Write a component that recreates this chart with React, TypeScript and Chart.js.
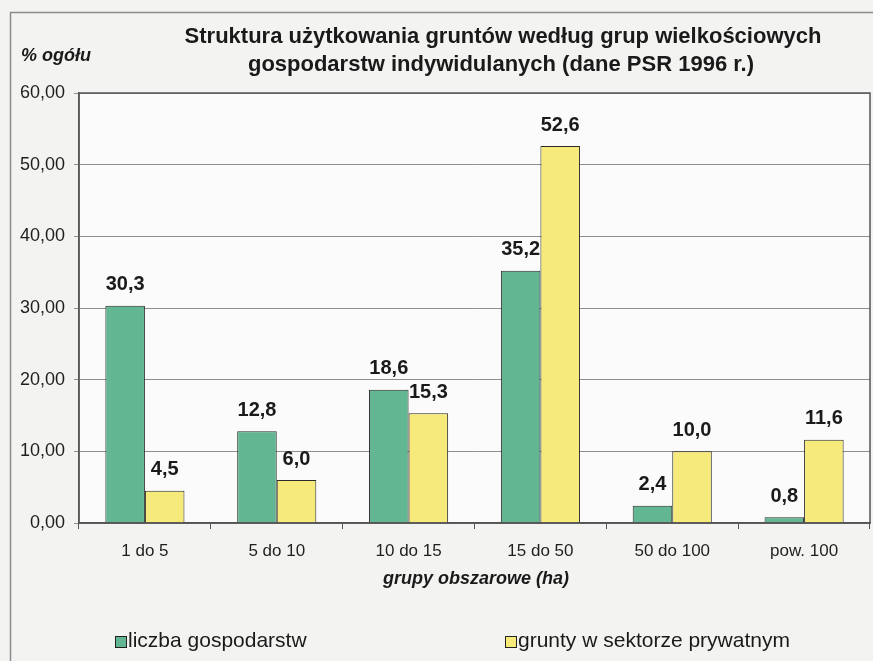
import React, { useEffect, useRef } from "react";
import { Chart, registerables } from "chart.js";

Chart.register(...registerables);

const categories = ["1 do 5", "5 do 10", "10 do 15", "15 do 50", "50 do 100", "pow. 100"];
const farmsCount = [30.3, 12.8, 18.6, 35.2, 2.4, 0.8];
const privateLand = [4.5, 6.0, 15.3, 52.6, 10.0, 11.6];
const seriesNames = ["liczba gospodarstw", "grunty w sektorze prywatnym"];
const titleLines = [
  "Struktura użytkowania gruntów według grup wielkościowych",
  "gospodarstw indywidulanych (dane PSR 1996 r.)",
];
const yAxisLabel = "% ogółu";
const xAxisLabel = "grupy obszarowe (ha)";

const GREEN = "#62b691";
const YELLOW = "#f6ea7a";
const FONT = "'Liberation Sans', Arial, sans-serif";

const fmt = (v: number, d: number) => v.toFixed(d).replace(".", ",");

const decorPlugin = {
  id: "decor",
  beforeDraw(chart: any) {
    const { ctx, chartArea, width, height } = chart;
    ctx.save();
    ctx.fillStyle = "#f3f3f1";
    ctx.fillRect(0, 0, width, height);
    ctx.strokeStyle = "#8c8c8c";
    ctx.lineWidth = 1.5;
    ctx.beginPath();
    ctx.moveTo(10.5, height);
    ctx.lineTo(10.5, 12.5);
    ctx.lineTo(width, 12.5);
    ctx.stroke();
    ctx.fillStyle = "#fbfbfb";
    ctx.fillRect(chartArea.left, chartArea.top, chartArea.right - chartArea.left, chartArea.bottom - chartArea.top);
    ctx.restore();
  },
  afterDatasetsDraw(chart: any) {
    const { ctx, chartArea } = chart;
    ctx.save();
    ctx.strokeStyle = "#555";
    ctx.lineWidth = 1.5;
    ctx.strokeRect(chartArea.left, chartArea.top, chartArea.right - chartArea.left, chartArea.bottom - chartArea.top);
    ctx.fillStyle = "#1a1a1a";
    ctx.font = `bold 20px ${FONT}`;
    ctx.textAlign = "center";
    ctx.textBaseline = "bottom";
    chart.data.datasets.forEach((ds: any, i: number) => {
      const meta = chart.getDatasetMeta(i);
      meta.data.forEach((bar: any, j: number) => {
        ctx.fillText(fmt(ds.data[j], 1), bar.x, bar.y - 11);
      });
    });
    ctx.font = `bold 22px ${FONT}`;
    ctx.textBaseline = "middle";
    ctx.fillText(titleLines[0], 503, 37);
    ctx.fillText(titleLines[1], 501, 65);
    ctx.font = `italic bold 18px ${FONT}`;
    ctx.textAlign = "left";
    ctx.fillText(yAxisLabel, 21, 56);
    ctx.textAlign = "center";
    ctx.fillText(xAxisLabel, 476, 579);
    ctx.font = `21px ${FONT}`;
    ctx.textAlign = "left";
    const items = [
      { x: 115, color: GREEN, text: seriesNames[0] },
      { x: 505, color: YELLOW, text: seriesNames[1] },
    ];
    items.forEach((it) => {
      ctx.fillStyle = it.color;
      ctx.fillRect(it.x, 636, 11, 11);
      ctx.strokeStyle = "#222";
      ctx.lineWidth = 1;
      ctx.strokeRect(it.x + 0.5, 636.5, 11, 11);
      ctx.fillStyle = "#1a1a1a";
      ctx.fillText(it.text, it.x + 13, 641);
    });
    ctx.restore();
  },
};

export default function App() {
  const ref = useRef<HTMLCanvasElement | null>(null);
  useEffect(() => {
    if (!ref.current) return;
    const chart = new Chart(ref.current, {
      type: "bar",
      data: {
        labels: categories,
        datasets: [
          {
            label: seriesNames[0],
            data: farmsCount,
            backgroundColor: GREEN,
            borderColor: "#2a2a2a",
            borderWidth: 1,
            categoryPercentage: 0.6,
            barPercentage: 1,
          },
          {
            label: seriesNames[1],
            data: privateLand,
            backgroundColor: YELLOW,
            borderColor: "#2a2a2a",
            borderWidth: 1,
            categoryPercentage: 0.6,
            barPercentage: 1,
          },
        ],
      },
      options: {
        responsive: false,
        animation: false,
        layout: { padding: { top: 93, right: 3, left: 0, bottom: 0 } },
        plugins: { legend: { display: false }, title: { display: false }, tooltip: { enabled: false } },
        scales: {
          x: {
            offset: true,
            grid: { display: true, drawOnChartArea: false, offset: true, tickLength: 6, color: "#555" },
            border: { display: true, color: "#555", width: 1.5 },
            ticks: { color: "#1f1f1f", font: { family: FONT, size: 17 }, padding: 12, maxRotation: 0 },
            afterFit: (s: any) => { s.height = 138; },
          },
          y: {
            min: 0,
            max: 60,
            ticks: {
              stepSize: 10,
              color: "#1f1f1f",
              font: { family: FONT, size: 18 },
              padding: 9,
              callback: (v: any) => fmt(Number(v), 2),
            },
            grid: { color: "#8e8e8e", lineWidth: 1, tickLength: 5 },
            border: { display: true, color: "#555", width: 1.5 },
            afterFit: (s: any) => { s.width = 79; },
          },
        },
      },
      plugins: [decorPlugin],
    });
    return () => chart.destroy();
  }, []);
  return (
    <div style={{ position: "absolute", left: 0, top: 0, width: 873, height: 661 }}>
      <canvas ref={ref} width={873} height={661} style={{ display: "block" }} />
    </div>
  );
}
